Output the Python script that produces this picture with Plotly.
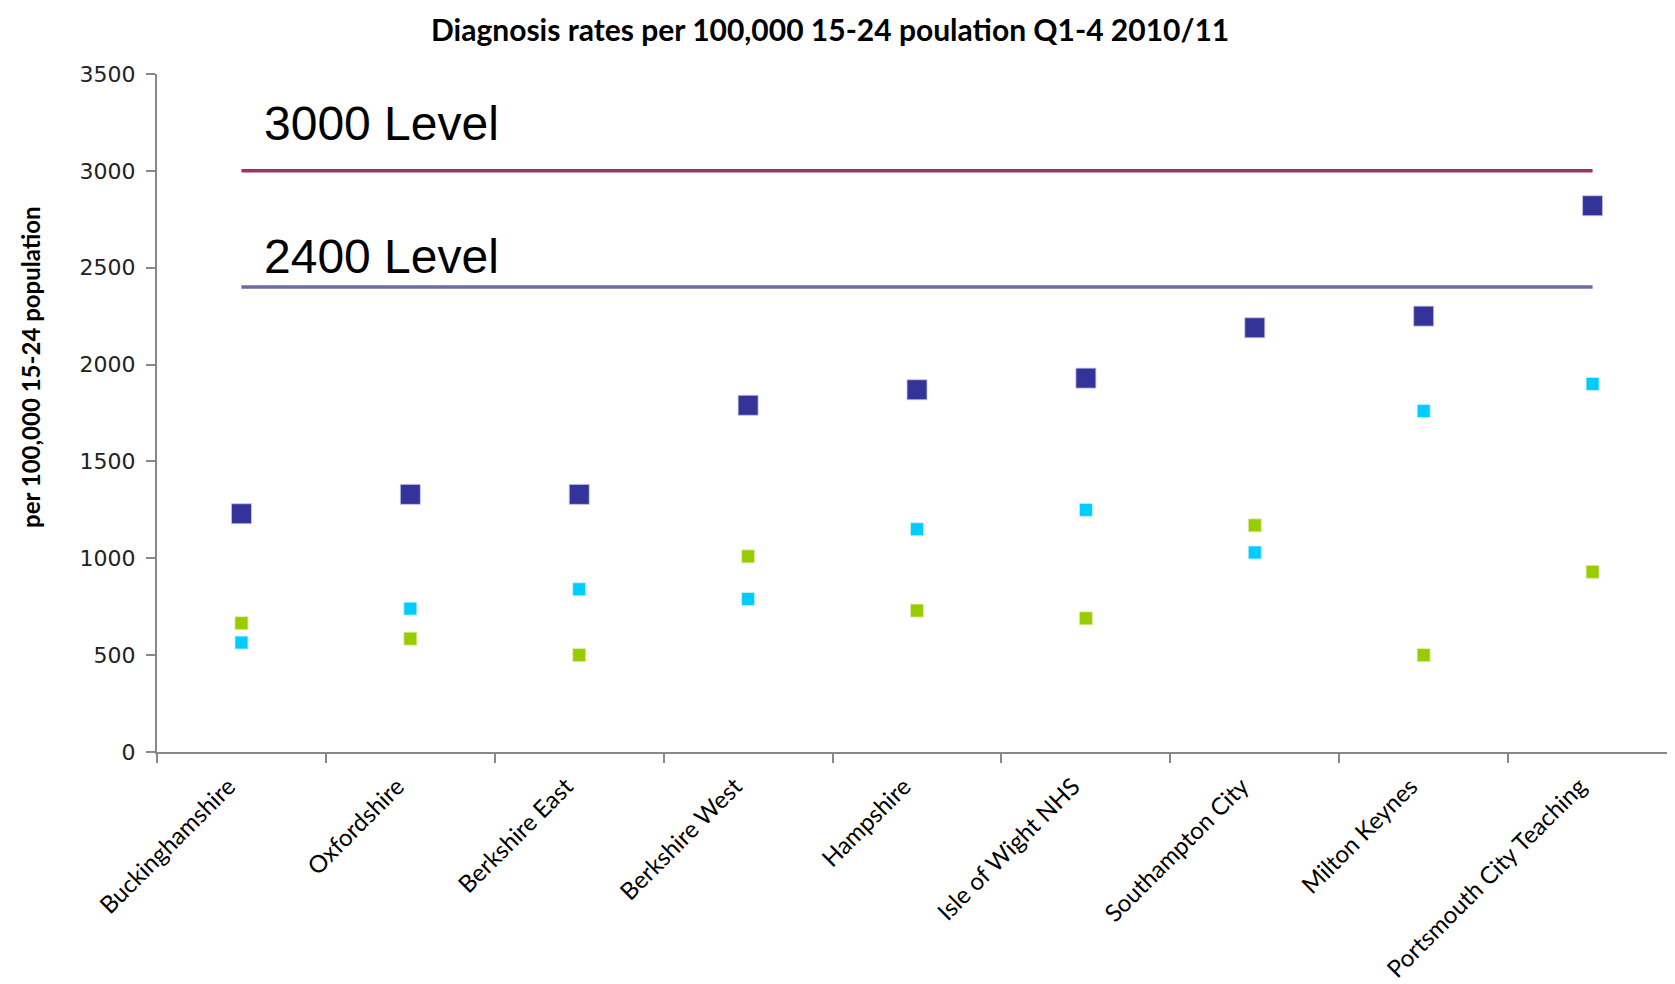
import plotly.graph_objects as go

categories = ["Buckinghamshire", "Oxfordshire", "Berkshire East", "Berkshire West",
              "Hampshire", "Isle of Wight NHS", "Southampton City", "Milton Keynes",
              "Portsmouth City Teaching"]
total_rate = [1230, 1330, 1330, 1790, 1870, 1930, 2190, 2250, 2820]
series_cyan = [565, 740, 840, 790, 1150, 1250, 1030, 1760, 1900]
series_green = [665, 585, 500, 1010, 730, 690, 1170, 500, 930]
level_3000 = [3000] * len(categories)
level_2400 = [2400] * len(categories)
y_ticks = [0, 500, 1000, 1500, 2000, 2500, 3000, 3500]

W, H = 1675, 984
ML, MR, MT, MB = 149, 6, 66, 240
plot_w = W - ML - MR
plot_h = H - MT - MB


def px_to_paper(xp, yp):
    return (xp - ML) / plot_w, (H - MB - yp) / plot_h


fig = go.Figure()
fig.add_trace(go.Scatter(x=categories, y=level_3000, mode="lines",
                         line=dict(color="#9B3366", width=3.5), hoverinfo="skip"))
fig.add_trace(go.Scatter(x=categories, y=level_2400, mode="lines",
                         line=dict(color="#6A6AA6", width=3.5), hoverinfo="skip"))
fig.add_trace(go.Scatter(x=categories, y=total_rate, mode="markers",
                         marker=dict(symbol="square", size=20, color="#333399",
                                     line=dict(color="#C8C8E8", width=0.8))))
fig.add_trace(go.Scatter(x=categories, y=series_cyan, mode="markers",
                         marker=dict(symbol="square", size=13, color="#00CCFF",
                                     line=dict(color="#CCF2FF", width=0.8))))
fig.add_trace(go.Scatter(x=categories, y=series_green, mode="markers",
                         marker=dict(symbol="square", size=13, color="#99CC00",
                                     line=dict(color="#E0F0B0", width=0.8))))

fig.add_annotation(x=0.12, y=3245, xref="x", yref="y", text="3000 Level",
                   showarrow=False, xanchor="left", yanchor="middle",
                   font=dict(family="Liberation Sans, Arial", size=48, color="#000000"))
fig.add_annotation(x=0.12, y=2560, xref="x", yref="y", text="2400 Level",
                   showarrow=False, xanchor="left", yanchor="middle",
                   font=dict(family="Liberation Sans, Arial", size=48, color="#000000"))

tx, ty = px_to_paper(822, 21)
fig.add_annotation(x=tx, y=ty, xref="paper", yref="paper",
                   text="<b>Diagnosis rates per 100,000 15-24 poulation Q1-4 2010/11</b>",
                   showarrow=False, xanchor="center", yanchor="middle",
                   font=dict(family="Lato", size=30, color="#000000"))
ax_, ay_ = px_to_paper(22, 359)
fig.add_annotation(x=ax_, y=ay_, xref="paper", yref="paper",
                   text="<b>per 100,000 15-24 population</b>", textangle=-90,
                   showarrow=False, xanchor="center", yanchor="middle",
                   font=dict(family="Lato", size=24, color="#000000"))

fig.update_layout(
    width=W, height=H,
    margin=dict(l=ML, r=MR, t=MT, b=MB, pad=0, autoexpand=False),
    paper_bgcolor="white", plot_bgcolor="white",
    showlegend=False,
    xaxis=dict(type="category", range=[-0.5, 8.5], showgrid=False, zeroline=False,
               automargin=False,
               showline=True, linecolor="#888888", linewidth=2,
               ticks="outside", tickson="boundaries", ticklen=9, tickcolor="#888888",
               tickwidth=1.5, tickangle=-45, ticklabelstandoff=9,
               ticklabelshift=-13,
               tickfont=dict(family="Lato", size=24, color="#000000")),
    yaxis=dict(range=[0, 3500], tickvals=y_ticks, showgrid=False, zeroline=False,
               automargin=False,
               showline=True, linecolor="#888888", linewidth=2,
               ticks="outside", ticklen=9, tickcolor="#888888", tickwidth=1.5,
               ticklabelstandoff=6,
               tickfont=dict(family="DejaVu Sans", size=22, color="#222222")),
)

fig.write_html("out.html")
